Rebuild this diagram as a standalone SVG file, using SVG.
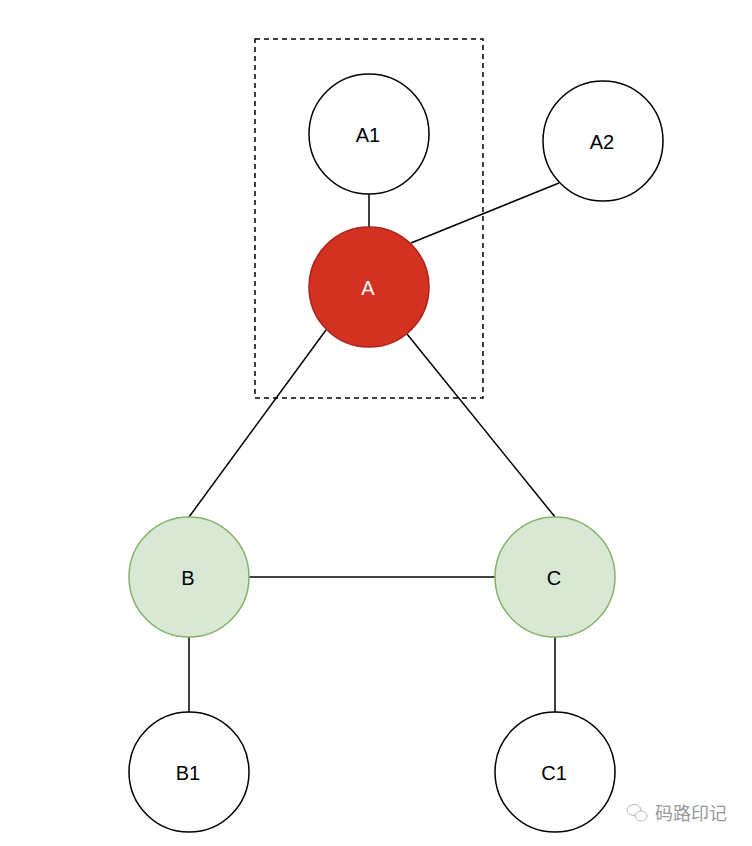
<svg xmlns="http://www.w3.org/2000/svg" width="752" height="846" viewBox="0 0 752 846">
<style>
.node{fill:#ffffff;stroke:#000000;stroke-width:1.5}
.red{fill:#d43221;stroke:#a82418;stroke-width:1.5}
.green{fill:#d9e8d5;stroke:#82b366;stroke-width:1.5}
.lbl{font-family:"Liberation Sans",Arial,sans-serif;font-size:20px;text-anchor:middle;dominant-baseline:central;fill:#000000}
.edge{stroke:#000000;stroke-width:1.5;fill:none}
</style>
<rect x="0" y="0" width="752" height="846" fill="#ffffff"/>
<rect id="group" x="255" y="39" width="228" height="359" fill="none" stroke="#000000" stroke-width="1.5" stroke-dasharray="5,4"/>
<g id="connectors">
<line class="edge" x1="369" y1="194" x2="369" y2="227"/>
<line class="edge" x1="411" y1="243" x2="559" y2="183"/>
<line class="edge" x1="326" y1="330" x2="189" y2="517"/>
<line class="edge" x1="407" y1="334" x2="555" y2="517"/>
<line class="edge" x1="249" y1="577" x2="495" y2="577"/>
<line class="edge" x1="189" y1="637" x2="189" y2="712"/>
<line class="edge" x1="555" y1="637" x2="555" y2="712"/>
</g>
<g id="A1"><circle class="node" cx="369" cy="134" r="60"/><text class="lbl" x="368" y="135">A1</text></g>
<g id="A2"><circle class="node" cx="603" cy="141" r="60"/><text class="lbl" x="602" y="142">A2</text></g>
<g id="A"><circle class="red" cx="369" cy="287" r="60"/><text class="lbl" x="368" y="288" style="fill:#ffffff">A</text></g>
<g id="B"><circle class="green" cx="189" cy="577" r="60"/><text class="lbl" x="188" y="578">B</text></g>
<g id="C"><circle class="green" cx="555" cy="577" r="60"/><text class="lbl" x="554" y="578">C</text></g>
<g id="B1"><circle class="node" cx="189" cy="772" r="60"/><text class="lbl" x="188" y="773">B1</text></g>
<g id="C1"><circle class="node" cx="555" cy="772" r="60"/><text class="lbl" x="554" y="773">C1</text></g>
<g id="watermark">
<ellipse cx="634" cy="810" rx="7" ry="5.5" fill="none" stroke="#b8b8b8" stroke-width="1"/>
<ellipse cx="641" cy="816" rx="6" ry="5" fill="#ffffff" stroke="#b8b8b8" stroke-width="1"/>
<text x="655" y="820" font-family="'Noto Sans CJK SC',sans-serif" font-size="18" fill="#999999">码路印记</text>
</g>
</svg>
